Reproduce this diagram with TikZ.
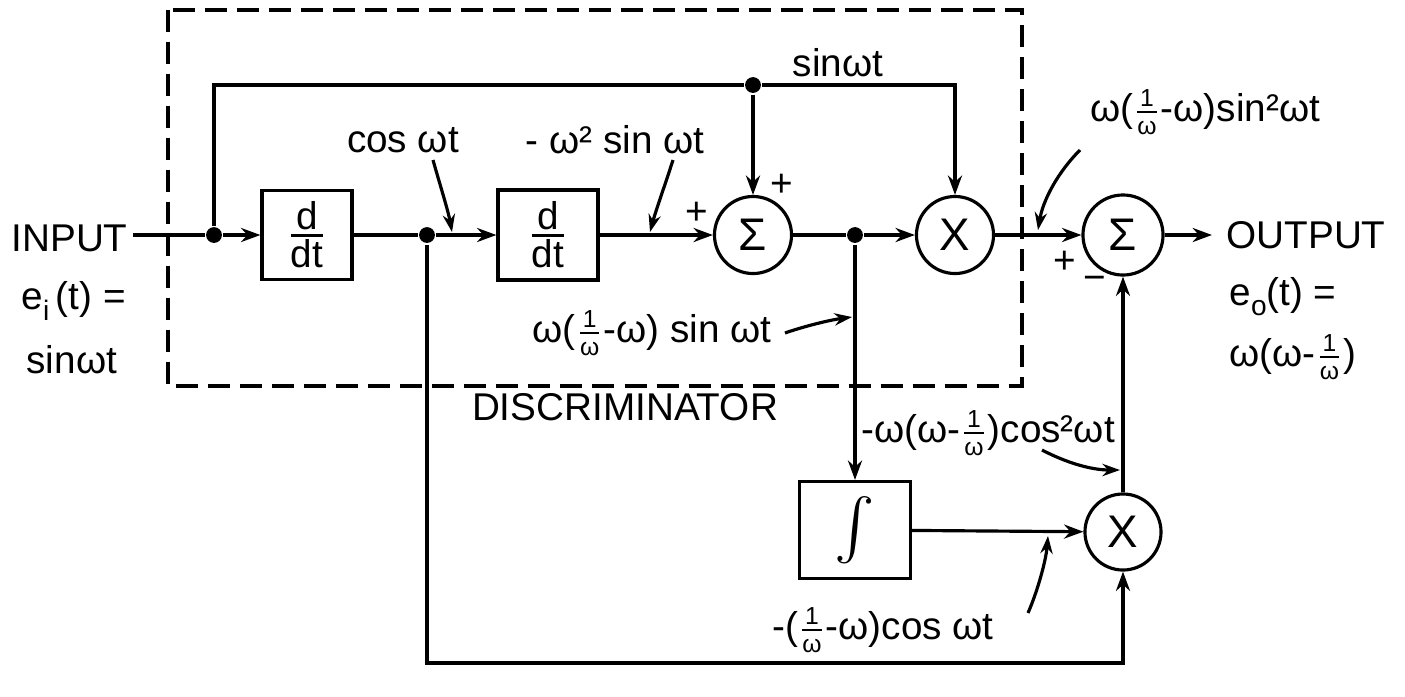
\documentclass[tikz,border=0pt]{standalone}
\usepackage{amsmath}
\usepackage{fontspec}
\setmainfont{Liberation Sans}
\usetikzlibrary{arrows.meta}
\newcommand\smfr[2]{\ensuremath{\genfrac{}{}{0.5pt}{}{\mbox{\fontsize{7}{7}\selectfont #1}}{\mbox{\fontsize{7}{7}\selectfont #2}}}}
\newcommand\bigfr[2]{\ensuremath{\genfrac{}{}{0.8pt}{}{\mbox{#1}}{\mbox{#2}}}}
\begin{document}
\begin{tikzpicture}[x=0.01cm,y=-0.01cm,
  font=\fontsize{11}{13}\selectfont,
  line width=0.9pt,
  blk/.style={draw, rectangle, inner sep=0},
  opr/.style={draw, circle, inner sep=0, minimum size=0.77cm, font=\fontsize{13}{15}\selectfont},
  lbl/.style={inner sep=0},
  arr/.style={-{Stealth[length=5.5pt,width=4pt]}},
  ptr/.style={-{Stealth[length=5pt,width=3.5pt]}},
  jdot/.style={circle, fill, inner sep=0, minimum size=4.5pt},
  discframe/.style={dash pattern=on 0.22cm off 0.1cm}]
\useasboundingbox (0,0) rectangle (1405,696);

% dashed discriminator frame
\draw[discframe] (168,10) rectangle (1022,386);

% blocks
\node[blk, minimum width=0.9cm, minimum height=0.89cm] (d1) at (307,235) {\bigfr{d}{dt}};
\node[blk, minimum width=1.0cm, minimum height=0.9cm] (d2) at (548,235) {\bigfr{d}{dt}};
\node[opr] (s1) at (753,235) {Σ};
\node[opr] (m1) at (955,235) {X};
\node[opr, minimum size=0.8cm] (s2) at (1123,235) {Σ};
\node[blk, minimum width=1.11cm, minimum height=0.97cm] (in) at (855,530) {\fontsize{17}{17}\selectfont$\int$};
\node[opr, minimum size=0.76cm] (m2) at (1123,532) {X};

% junctions and corners
\coordinate (src) at (133,235);
\node[jdot] (j0) at (214,235) {};
\node[jdot] (j1) at (427,235) {};
\node[jdot] (j2) at (855,235) {};
\node[jdot] (t1) at (753,85) {};
\coordinate (t0) at (214,85);
\coordinate (t2) at (955,85);
\coordinate (b0) at (427,663);
\coordinate (b1) at (1123,663);
\coordinate (out) at (1212,235);

% connectors
\draw (src) -- (j0);
\draw[arr] (j0) -- (d1);
\draw (d1) -- (j1);
\draw[arr] (j1) -- (d2);
\draw[arr] (d2) -- (s1);
\draw[arr] (j0) -- (t0) -- (t1) -- (t2) -- (m1);
\draw[arr] (t1) -- (s1);
\draw (s1) -- (j2);
\draw[arr] (j2) -- (m1);
\draw[arr] (m1) -- (s2);
\draw[arr] (s2) -- (out);
\draw[arr] (j2) -- (in);
\draw[arr] (in) -- (m2);
\draw[arr] (j1) -- (b0) -- (b1) -- (m2);
\draw[arr] (m2) -- (s2);

% input / output texts
\node[lbl, anchor=west] (inputlbl) at (10,238) {INPUT};
\node[lbl, anchor=west] (eilbl) at (20,301) {e\raisebox{-0.5ex}{\fontsize{8}{8}\selectfont i}\,(t) =};
\node[lbl, anchor=west] (sinlbl) at (25,360) {sinωt};
\node[lbl, anchor=west] (outputlbl) at (1225,235) {OUTPUT};
\node[lbl, anchor=west] (eolbl) at (1228,297) {e\raisebox{-0.5ex}{\fontsize{8}{8}\selectfont o}(t) =};
\node[lbl, anchor=west] (eoval) at (1228,357) {ω(ω-\smfr{1}{ω})};

% signal labels
\node[lbl] (lcos) at (403,140) {cos ωt};
\node[lbl] (lw2) at (615,140) {- ω² sin ωt};
\node[lbl] (lsin) at (838,63) {sinωt};
\node[lbl] (lsin2) at (1205,112) {ω(\smfr{1}{ω}-ω)sin²ωt};
\node[lbl] (lws) at (652,333) {ω(\smfr{1}{ω}-ω) sin ωt};
\node[lbl] (ldisc) at (625,407) {DISCRIMINATOR};
\node[lbl] (lcos2) at (988,433) {-ω(ω-\smfr{1}{ω})cos²ωt};
\node[lbl] (lcos3) at (883,630) {-(\smfr{1}{ω}-ω)cos ωt};

% signs
\node[lbl] (p1) at (697,213) {+};
\node[lbl] (p2) at (782,185) {+};
\node[lbl] (p3) at (1065,262) {+};
\node[lbl] (p4) at (1095,283) {\textminus};

% pointer arrows
\coordinate (a1s) at (433,160); \coordinate (a1e) at (452,232);
\coordinate (a2s) at (673,160); \coordinate (a2e) at (650,232);
\coordinate (a3s) at (1080,150); \coordinate (a3e) at (1038,230);
\coordinate (a4s) at (785,333); \coordinate (a4e) at (852,317);
\coordinate (a5s) at (1042,450); \coordinate (a5e) at (1120,470);
\coordinate (a6s) at (1028,613); \coordinate (a6e) at (1048,536);
\draw[ptr] (a1s) .. controls (440,185) and (448,210) .. (a1e);
\draw[ptr] (a2s) .. controls (665,185) and (656,210) .. (a2e);
\draw[ptr] (a3s) .. controls (1058,172) and (1043,200) .. (a3e);
\draw[ptr] (a4s) .. controls (805,326) and (830,320) .. (a4e);
\draw[ptr] (a5s) .. controls (1065,462) and (1090,470) .. (a5e);
\draw[ptr] (a6s) .. controls (1038,590) and (1046,560) .. (a6e);
\end{tikzpicture}
\end{document}
